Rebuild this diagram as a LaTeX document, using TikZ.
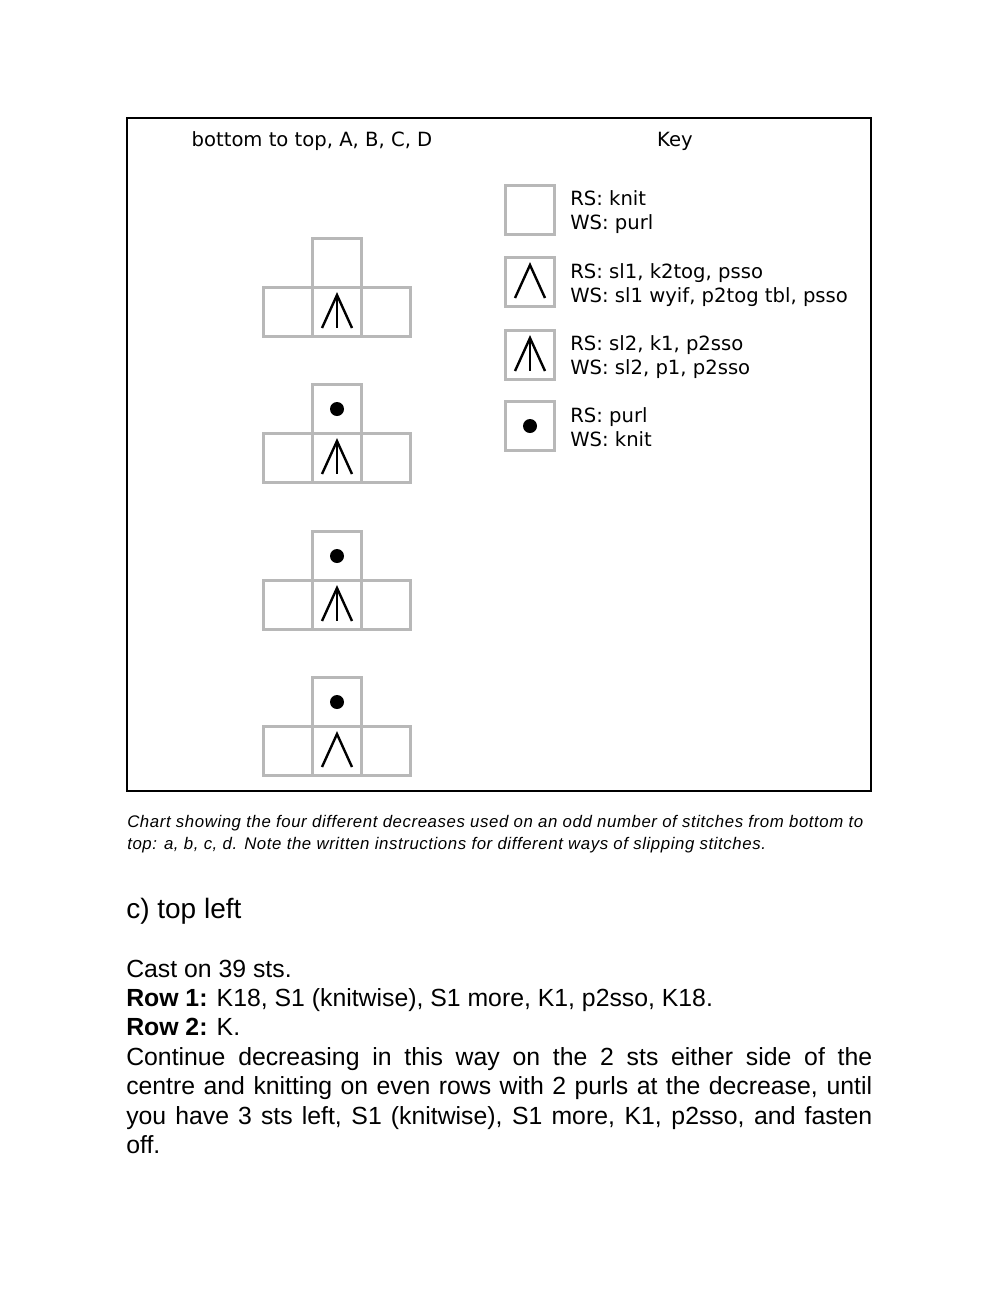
\documentclass[tikz,border=0pt]{standalone}
\usepackage{fontspec}
\setmainfont{Liberation Sans}
\newfontfamily\keyfont{DejaVu Sans}
\newfontfamily\capfont{Liberation Sans}[LetterSpace=3.5]
\begin{document}
\begin{tikzpicture}[x=0.75pt,y=-0.75pt,
  cell/.style={draw=black!28,line width=1.9pt,minimum size=36.75pt,inner sep=0pt,outer sep=0pt},
  sym/.style={line width=1.8pt,black},
  keytxt/.style={font=\keyfont\fontsize{14.7}{17}\selectfont,anchor=base west,inner sep=0pt},
  captxt/.style={font=\capfont\itshape\fontsize{12.6}{15}\selectfont,anchor=base west,inner sep=0pt},
  bodytxt/.style={font=\fontsize{18.6}{22}\selectfont,anchor=base west,inner sep=0pt},
  dec2/.pic={\draw[sym] (-15,16) -- (0,-17) -- (15,16);},
  dec3/.pic={\draw[sym] (-15,16) -- (0,-17) -- (15,16); \draw[sym] (0,-17) -- (0,16);},
  dotp/.pic={\fill (0,0) circle (7);}
]
\useasboundingbox (0,0) rectangle (999,1293);
\draw[line width=0.8pt] (127,118) rectangle (871,791);
\node[keytxt,anchor=base] (hdr) at (312,146) {bottom to top, A, B, C, D};
\node[keytxt,anchor=base] (key) at (675,146) {Key};
% charts
\foreach \n/\y in {1/263,2/409,3/556,4/702}{
  \node[cell] (t\n) at (337,\y) {};
  \node[cell] (m\n) at (337,\y+49) {};
  \node[cell] (l\n) at (288,\y+49) {};
  \node[cell] (r\n) at (386,\y+49) {};
}
\pic at (m1) {dec3};
\pic at (m2) {dec3};
\pic at (m3) {dec3};
\pic at (m4) {dec2};
\pic at (t2) {dotp};
\pic at (t3) {dotp};
\pic at (t4) {dotp};
% key
\node[cell] (k1) at (530,210) {};
\node[cell] (k2) at (530,282) {};
\node[cell] (k3) at (530,355) {};
\node[cell] (k4) at (530,426) {};
\pic at (k2) {dec2};
\pic at (k3) {dec3};
\pic at (k4) {dotp};
\node[keytxt] (k1a) at (570,205) {RS: knit};
\node[keytxt] (k1b) at (570,229) {WS: purl};
\node[keytxt] (k2a) at (570,278) {RS: sl1, k2tog, psso};
\node[keytxt] (k2b) at (570,302) {WS: sl1 wyif, p2tog tbl, psso};
\node[keytxt] (k3a) at (570,350) {RS: sl2, k1, p2sso};
\node[keytxt] (k3b) at (570,374) {WS: sl2, p1, p2sso};
\node[keytxt] (k4a) at (570,422) {RS: purl};
\node[keytxt] (k4b) at (570,446) {WS: knit};
% caption
\node[captxt] (c1) at (127,827) {Chart showing the four different decreases used on an odd number of stitches from bottom to};
\node[captxt] (c2) at (127,849) {top: a, b, c, d. Note the written instructions for different ways of slipping stitches.};
% body
\node[bodytxt,font=\fontsize{21}{25}\selectfont] (h) at (126,918) {c) top left};
\node[bodytxt] (b1) at (126,977) {Cast on 39 sts.};
\node[bodytxt] (b2) at (126,1006) {\textbf{Row 1:} K18, S1 (knitwise), S1 more, K1, p2sso, K18.};
\node[bodytxt] (b3) at (126,1035) {\textbf{Row 2:} K.};
\node[bodytxt] (b4) at (126,1065) {\makebox[559.5pt][s]{Continue decreasing in this way on the 2 sts either side of the}};
\node[bodytxt] (b5) at (126,1094) {\makebox[559.5pt][s]{centre and knitting on even rows with 2 purls at the decrease, until}};
\node[bodytxt] (b6) at (126,1124) {\makebox[559.5pt][s]{you have 3 sts left, S1 (knitwise), S1 more, K1, p2sso, and fasten}};
\node[bodytxt] (b7) at (126,1153) {off.};
\end{tikzpicture}
\end{document}
